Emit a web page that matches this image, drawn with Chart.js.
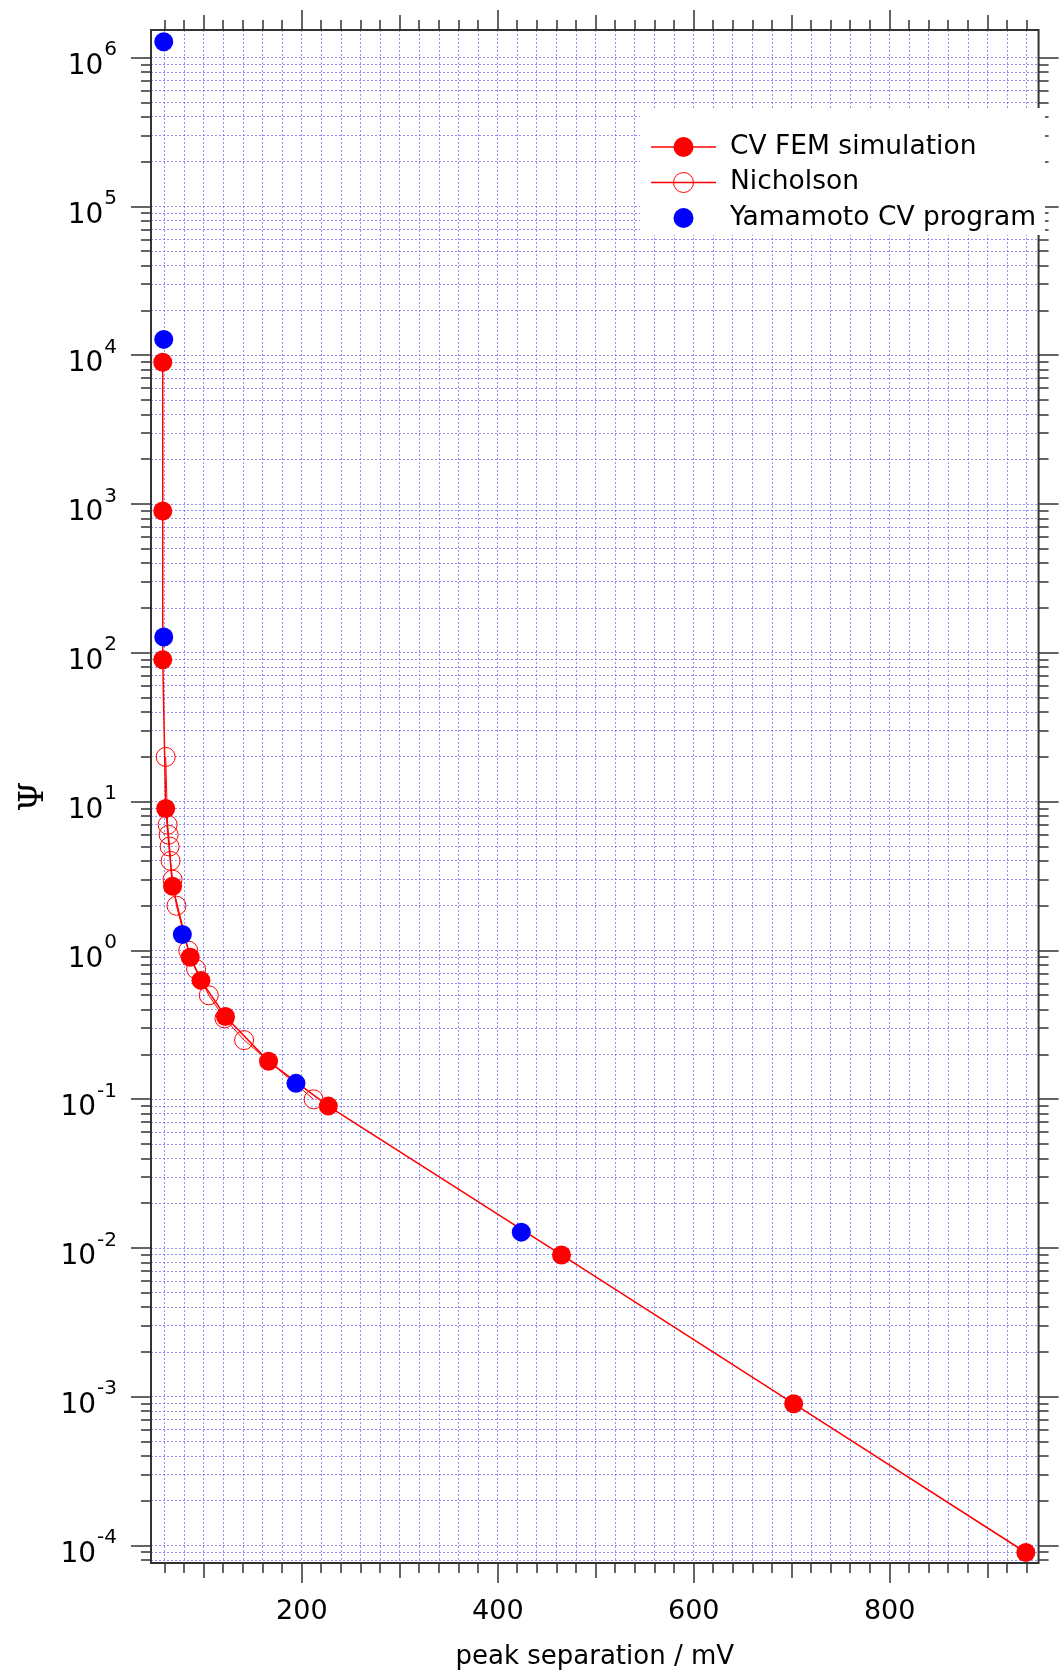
<!DOCTYPE html>
<html>
<head>
<meta charset="utf-8">
<script src="https://cdn.jsdelivr.net/npm/chart.js@4.4.1/dist/chart.umd.min.js"></script>
<style>
  body { margin: 0; background: #fff; }
  #wrap { width: 1060px; height: 1674px; }
</style>
</head>
<body>
<div id="wrap"><canvas id="chart"></canvas></div>
<script>
// CV FEM simulation
var femSeparation = [58, 58, 58, 61, 68, 86, 97, 122, 166, 227, 465, 702, 939];
var femPsi = [9000, 900, 90, 9, 2.7, 0.9, 0.63, 0.36, 0.18, 0.09, 0.009, 0.0009, 0.00009];
// Nicholson
var nichSeparation = [61, 63, 64, 65, 66, 68, 72, 84, 92, 105, 121, 141, 212];
var nichPsi = [20, 7, 6, 5, 4, 3, 2, 1, 0.75, 0.5, 0.35, 0.25, 0.1];
// Yamamoto CV program
var yamaSeparation = [59, 59, 59, 78, 194, 424];
var yamaPsi = [1.28e6, 1.28e4, 128, 1.28, 0.128, 0.0128];

var xLabels = [200, 400, 600, 800];
var xMin = 46, xMax = 952, xStep = 20;
var yMin = 7.65e-5, yMax = 1.537e6;
var yDecades = [-5, -4, -3, -2, -1, 0, 1, 2, 3, 4, 5, 6];

var xTicks = [];
for (var v = 60; v <= 940; v += xStep) xTicks.push(v);
var yTicks = [];
yDecades.forEach((n) => {
  for (var m = 1; m <= 9; m++) {
    var val = Number((m * Math.pow(10, n)).toPrecision(6));
    if (val >= yMin && val <= yMax) yTicks.push(val);
  }
});

function isDecade(val) {
  var l = Math.log10(val);
  return Math.abs(l - Math.round(l)) < 1e-9;
}
function pairs(xs, ys) {
  return xs.map((x, i) => ({ x: x, y: ys[i] }));
}

var gridColor = "rgba(70, 70, 255, 0.6)";
var font = '"DejaVu Sans", sans-serif';
Chart.defaults.font.family = font;
Chart.defaults.color = "#000";

var frame = {
  id: "frame",
  afterDraw(chart) {
    var ctx = chart.ctx;
    var a = chart.chartArea;
    var xs = chart.scales.x;
    var ys = chart.scales.y;
    ctx.save();
    ctx.strokeStyle = "#333";
    ctx.lineWidth = 2;
    ctx.strokeRect(a.left, a.top, a.right - a.left, a.bottom - a.top);

    // tick marks on all four sides, outside the frame
    ctx.lineWidth = 1.5;
    ctx.beginPath();
    xs.ticks.forEach((t) => {
      var px = Math.round(xs.getPixelForValue(t.value));
      var len = t.value % 200 === 0 ? 20 : t.value % 100 === 0 ? 15 : 10;
      ctx.moveTo(px, a.top);
      ctx.lineTo(px, a.top - len);
      ctx.moveTo(px, a.bottom);
      ctx.lineTo(px, a.bottom + len);
    });
    ys.ticks.forEach((t) => {
      var py = Math.round(ys.getPixelForValue(t.value));
      var len = isDecade(t.value) ? 20 : 10;
      ctx.moveTo(a.left, py);
      ctx.lineTo(a.left - len, py);
      ctx.moveTo(a.right, py);
      ctx.lineTo(a.right + len, py);
    });
    ctx.stroke();

    // decade labels with superscript exponents
    ctx.fillStyle = "#000";
    ctx.textBaseline = "alphabetic";
    ctx.textAlign = "left";
    ys.ticks.forEach((t) => {
      if (!isDecade(t.value)) return;
      var n = Math.round(Math.log10(t.value));
      var py = ys.getPixelForValue(t.value);
      var exp = String(n);
      ctx.font = "20px " + font;
      var ew = ctx.measureText(exp).width;
      ctx.font = "28px " + font;
      var bw = ctx.measureText("10").width;
      var right = 117;
      ctx.fillText("10", right - ew - 1 - bw, py + 16);
      ctx.font = "20px " + font;
      ctx.fillText(exp, right - ew, py - 2.5);
    });

    // legend
    ctx.fillStyle = "#fff";
    ctx.fillRect(640, 108, 405, 127);
    var rows = [147, 182.5, 218];
    chart.data.datasets.forEach((ds, i) => {
      var y = rows[i];
      if (ds.showLine) {
        ctx.strokeStyle = ds.borderColor;
        ctx.lineWidth = 1.5;
        ctx.beginPath();
        ctx.moveTo(651, y);
        ctx.lineTo(716, y);
        ctx.stroke();
      }
      ctx.beginPath();
      ctx.arc(683.5, y, 10, 0, Math.PI * 2);
      if (ds.pointBackgroundColor !== "rgba(0,0,0,0)") {
        ctx.fillStyle = ds.pointBackgroundColor;
        ctx.fill();
      } else {
        ctx.strokeStyle = ds.pointBorderColor;
        ctx.lineWidth = 1;
        ctx.stroke();
      }
      ctx.fillStyle = "#000";
      ctx.font = "26.5px " + font;
      ctx.textBaseline = "middle";
      ctx.fillText(ds.label, 730, y);
    });
    ctx.restore();
  },
};

new Chart(document.getElementById("chart"), {
  type: "scatter",
  data: {
    datasets: [
      {
        label: "CV FEM simulation",
        data: pairs(femSeparation, femPsi),
        showLine: true,
        borderColor: "#ff0000",
        borderWidth: 1.5,
        pointRadius: 9.5,
        pointBackgroundColor: "#ff0000",
        pointBorderColor: "#ff0000",
        pointBorderWidth: 0,
        order: 2,
      },
      {
        label: "Nicholson",
        data: pairs(nichSeparation, nichPsi),
        showLine: true,
        borderColor: "#ff0000",
        borderWidth: 1,
        pointRadius: 9.5,
        pointBackgroundColor: "rgba(0,0,0,0)",
        pointBorderColor: "#ff0000",
        pointBorderWidth: 1,
        order: 1,
      },
      {
        label: "Yamamoto CV program",
        data: pairs(yamaSeparation, yamaPsi),
        showLine: false,
        pointRadius: 9.5,
        pointBackgroundColor: "#0000ff",
        pointBorderColor: "#0000ff",
        pointBorderWidth: 0,
        order: 0,
      },
    ],
  },
  options: {
    responsive: true,
    maintainAspectRatio: false,
    animation: false,
    layout: {
      autoPadding: false,
      padding: { top: 30, right: 14, bottom: 0, left: 0 },
    },
    plugins: {
      legend: { display: false },
      tooltip: { enabled: false },
    },
    scales: {
      x: {
        type: "linear",
        min: xMin,
        max: xMax,
        afterBuildTicks: (s) => {
          s.ticks = xTicks.map((v) => ({ value: v }));
        },
        afterFit: (s) => {
          s.height = 111;
        },
        ticks: {
          autoSkip: false,
          maxRotation: 0,
          padding: 33,
          font: { size: 27 },
          callback: (v) => (xLabels.includes(v) ? String(v) : ""),
        },
        grid: { color: gridColor, lineWidth: 1, drawTicks: false },
        border: { display: false, dash: [2, 2] },
        title: {
          display: true,
          text: "peak separation / mV",
          font: { size: 26 },
          padding: { top: 0, bottom: 1 },
        },
      },
      y: {
        type: "logarithmic",
        min: yMin,
        max: yMax,
        afterBuildTicks: (s) => {
          s.ticks = yTicks.map((v) => ({ value: v }));
        },
        afterFit: (s) => {
          s.width = 151;
        },
        ticks: { display: false },
        grid: { color: gridColor, lineWidth: 1, drawTicks: false },
        border: { display: false, dash: [2, 2] },
        title: {
          display: true,
          text: "Ψ",
          font: { family: '"DejaVu Serif", serif', size: 34 },
          padding: { top: 14, bottom: 0 },
        },
      },
    },
  },
  plugins: [frame],
});
</script>
</body>
</html>
